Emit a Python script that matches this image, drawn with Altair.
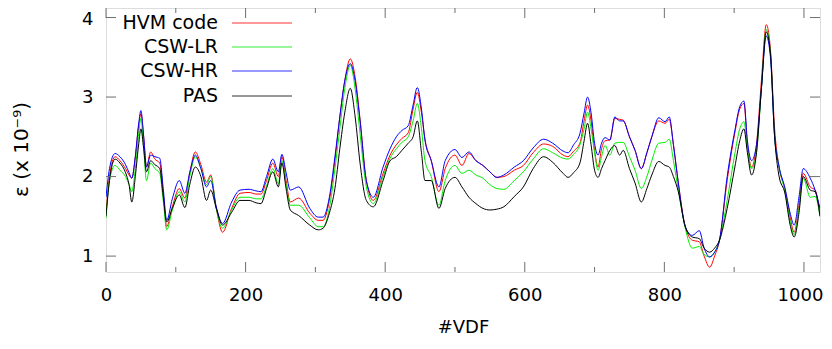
import altair as alt
import pandas as pd

# ---- data ----
vdf = [0, 5, 13, 20, 28, 33, 37, 42, 47, 50, 54, 58, 64, 70, 77, 82, 87, 95, 105, 113,
       120, 128, 136, 144, 150, 158, 167, 180, 192, 205, 215, 222, 230, 239, 247, 252,
       258, 264, 276, 292, 304, 311, 320, 328, 335, 342, 350, 357, 364, 373, 383, 397,
       407, 416, 424, 433, 440, 446, 452, 457, 466, 477, 486, 500, 510, 520, 530, 540,
       550, 560, 570, 585, 598, 612, 627, 640, 655, 662, 670, 679, 685, 690, 695, 700,
       705, 710, 715, 722, 729, 736, 741, 750, 758, 767, 775, 782, 792, 801, 807, 813,
       820, 830, 840, 850, 857, 865, 872, 879, 890, 901, 908, 914, 919, 925, 932, 939,
       946, 952, 958, 964, 973, 980, 986, 993, 999, 1009, 1016, 1023]

hvm = [1.54, 2.0, 2.25, 2.2, 2.1, 2.02, 1.98, 2.25, 2.65, 2.79, 2.5, 2.12, 2.31, 2.22, 2.17, 1.8, 1.37, 1.62, 1.85, 1.73,
       2.05, 2.31, 2.15, 1.93, 2.02, 1.6, 1.3, 1.6, 1.79, 1.8, 1.78, 1.78, 1.95, 2.17, 2.0, 2.25,
       1.95, 1.68, 1.73, 1.54, 1.45, 1.45, 1.7, 2.2, 2.75, 3.2, 3.48, 3.25, 2.72, 1.95, 1.7, 2.04,
       2.27, 2.4, 2.48, 2.55, 2.85, 3.06, 2.8, 2.47, 2.2, 1.81, 2.1, 2.27, 2.14, 2.29, 2.2, 2.14,
       2.06, 1.99, 2.0, 2.08, 2.14, 2.3, 2.41, 2.38, 2.27, 2.25, 2.32, 2.42, 2.7, 2.9, 2.7, 2.33,
       2.12, 2.35, 2.45, 2.46, 2.73, 2.72, 2.71, 2.5, 2.33, 2.1, 2.3, 2.5, 2.7, 2.67, 2.72, 2.4,
       1.92, 1.37, 1.2, 1.18, 1.0, 0.86, 1.0, 1.2, 1.95, 2.55, 2.85, 2.92, 2.4, 2.12, 2.4, 3.2,
       3.91, 3.6, 2.6, 2.14, 1.83, 1.5, 1.3, 1.65, 2.04, 1.87, 1.83, 1.54]

csw_lr = [1.48, 1.95, 2.14, 2.08, 2.0, 1.9, 1.81, 2.1, 2.55, 2.73, 2.35, 1.95, 2.17, 2.1, 2.04, 1.7, 1.33, 1.58, 1.81, 1.68,
          2.0, 2.25, 2.1, 1.9, 2.0, 1.6, 1.35, 1.58, 1.74, 1.74, 1.72, 1.72, 1.88, 2.1, 1.91, 2.2,
          1.9, 1.64, 1.64, 1.48, 1.37, 1.37, 1.6, 2.1, 2.6, 3.1, 3.4, 3.1, 2.54, 1.87, 1.66, 2.0,
          2.23, 2.35, 2.43, 2.5, 2.7, 2.92, 2.6, 2.2, 2.0, 1.64, 1.95, 2.14, 2.04, 2.08, 2.02, 1.98,
          1.9, 1.85, 1.84, 1.95, 2.06, 2.22, 2.35, 2.3, 2.23, 2.22, 2.28, 2.4, 2.6, 2.81, 2.6, 2.3,
          2.08, 2.25, 2.39, 2.27, 2.42, 2.43, 2.43, 2.25, 2.08, 1.85, 2.0, 2.2, 2.42, 2.43, 2.47, 2.2,
          1.83, 1.35, 1.1, 1.12, 1.02, 0.99, 1.05, 1.2, 1.7, 2.29, 2.6, 2.69, 2.35, 2.1, 2.3, 3.1,
          3.85, 3.55, 2.5, 2.14, 1.8, 1.45, 1.27, 1.6, 1.98, 1.74, 1.75, 1.5]

csw_hr = [1.74, 2.1, 2.29, 2.25, 2.15, 2.05, 1.98, 2.25, 2.68, 2.83, 2.5, 2.12, 2.27, 2.25, 2.23, 1.85, 1.45, 1.72, 1.95, 1.79,
          2.05, 2.27, 2.1, 1.87, 1.95, 1.62, 1.41, 1.68, 1.83, 1.84, 1.82, 1.81, 2.0, 2.22, 2.06, 2.28,
          2.05, 1.83, 1.87, 1.6, 1.49, 1.49, 1.74, 2.25, 2.75, 3.2, 3.42, 3.2, 2.7, 1.95, 1.74, 2.12,
          2.35, 2.5, 2.58, 2.64, 2.9, 3.12, 2.85, 2.46, 2.2, 1.87, 2.2, 2.34, 2.24, 2.31, 2.2, 2.14,
          2.06, 1.99, 2.02, 2.12, 2.2, 2.36, 2.47, 2.42, 2.32, 2.3, 2.4, 2.54, 2.8, 3.0, 2.8, 2.42,
          2.27, 2.42, 2.49, 2.46, 2.75, 2.7, 2.7, 2.5, 2.33, 2.1, 2.3, 2.5, 2.74, 2.69, 2.75, 2.4,
          1.92, 1.37, 1.26, 1.32, 1.1, 0.99, 1.05, 1.2, 2.0, 2.58, 2.88, 2.95, 2.45, 2.2, 2.4, 3.1,
          3.77, 3.5, 2.5, 2.14, 1.85, 1.55, 1.39, 1.75, 2.1, 1.98, 1.83, 1.6]

pas = [1.5, 1.95, 2.22, 2.17, 2.05, 1.9, 1.68, 2.0, 2.42, 2.6, 2.35, 2.06, 2.2, 2.15, 2.1, 1.75, 1.43, 1.6, 1.77, 1.61,
       1.9, 2.12, 2.0, 1.7, 1.83, 1.6, 1.39, 1.55, 1.7, 1.7, 1.67, 1.66, 1.85, 2.06, 1.87, 2.17,
       1.85, 1.58, 1.51, 1.39, 1.33, 1.35, 1.54, 1.85, 2.35, 2.8, 3.11, 2.75, 2.17, 1.7, 1.62, 1.95,
       2.2, 2.25, 2.33, 2.42, 2.5, 2.7, 2.3, 1.95, 1.95, 1.6, 1.85, 1.99, 1.87, 1.74, 1.66, 1.6,
       1.58, 1.59, 1.62, 1.75, 1.87, 2.1, 2.25, 2.18, 2.04, 1.99, 2.05, 2.17, 2.45, 2.67, 2.4, 2.08,
       1.99, 2.1, 2.2, 2.33, 2.39, 2.27, 2.33, 2.1, 1.92, 1.68, 1.85, 2.02, 2.19, 2.14, 2.12, 2.0,
       1.81, 1.37, 1.24, 1.22, 1.1, 1.05, 1.1, 1.2, 1.6, 2.12, 2.45, 2.6, 2.3, 2.02, 2.3, 3.1,
       3.82, 3.55, 2.5, 2.02, 1.78, 1.4, 1.24, 1.55, 2.0, 1.83, 1.81, 1.5]

series_names = ["HVM code", "CSW-LR", "CSW-HR", "PAS"]
series_values = [hvm, csw_lr, csw_hr, pas]
series_colors = ["#ff0000", "#00ee00", "#0000ff", "#000000"]
legend_colors = ["#ff3333", "#33ee33", "#3333ff", "#333333"]

x_major = [0, 200, 400, 600, 800, 1000]
x_minor = [100, 300, 500, 700, 900]
y_major = [1, 2, 3, 4]

W, H = 714, 264
FONT = "DejaVu Sans"
FRAME = "#6e6e6e"
X_TITLE = "#VDF"
Y_TITLE = "ε (x 10⁻⁹)"

rows = []
for name, vals in zip(series_names, series_values):
    for xv, yv in zip(vdf, vals):
        rows.append({"vdf": xv, "eps": yv, "series": name})
df = pd.DataFrame(rows)

xscale = alt.Scale(domain=[0, 1023], nice=False, zero=False)
yscale = alt.Scale(domain=[0.8, 4.12], nice=False, zero=False)

xaxis = alt.Axis(values=x_major, format="d", ticks=False, domain=False, grid=False,
                 labelFont=FONT, labelFontSize=18, labelColor="black", labelPadding=14,
                 labelOffset=alt.expr("datum.value == 1000 ? -4 : 0"),
                 titleFont=FONT, titleFontSize=18, titleFontWeight="normal",
                 titleColor="black", titlePadding=14, labelFlush=False)
yaxis = alt.Axis(values=y_major, format="d", ticks=False, domain=False, grid=False,
                 labelFont=FONT, labelFontSize=18, labelColor="black", labelPadding=13,
                 labelOffset=alt.expr("datum.value == 4 ? 2 : 0"),
                 titleFont=FONT, titleFontSize=20, titleFontWeight="normal",
                 titleColor="black", titlePadding=50, titleY=141)

lines = alt.Chart(df).mark_line(strokeWidth=1, interpolate="monotone", clip=True).encode(
    x=alt.X("vdf:Q", scale=xscale, title=X_TITLE, axis=xaxis),
    y=alt.Y("eps:Q", scale=yscale, title=Y_TITLE, axis=yaxis),
    color=alt.Color("series:N", scale=alt.Scale(domain=series_names, range=series_colors), legend=None),
    order=alt.Order("vdf:Q"),
    detail="series:N",
)

def vticks(vals, y0, y1):
    return alt.Chart(pd.DataFrame({"v": vals})).mark_rule(color=FRAME, strokeWidth=1).encode(
        x=alt.X("v:Q", scale=xscale, title=X_TITLE, axis=xaxis), y=alt.value(y0), y2=alt.value(y1))

def hticks(vals, x0, x1):
    return alt.Chart(pd.DataFrame({"v": vals})).mark_rule(color=FRAME, strokeWidth=1).encode(
        y=alt.Y("v:Q", scale=yscale, title=Y_TITLE, axis=yaxis), x=alt.value(x0), x2=alt.value(x1))

ticks = [
    vticks(x_major, H, H - 10), vticks(x_minor, H, H - 5),
    vticks(x_major, 0, 10), vticks(x_minor, 0, 5),
    hticks(y_major, 0, 10), hticks(y_major, W - 10, W),
]

legend_layers = []
row_y = [15, 39, 63, 88]
for name, col, ry in zip(series_names, legend_colors, row_y):
    d = pd.DataFrame({"t": [name]})
    legend_layers.append(alt.Chart(d).mark_text(align="right", baseline="middle", font=FONT,
                                                fontSize=19, color="black").encode(
        text="t:N", x=alt.value(112), y=alt.value(ry)))
    legend_layers.append(alt.Chart(d).mark_rule(color=col, strokeWidth=1).encode(
        x=alt.value(126), x2=alt.value(186), y=alt.value(ry)))

chart = alt.layer(lines, *ticks, *legend_layers).properties(
    width=W, height=H,
    autosize=alt.AutoSizeParams(type="none"),
    padding={"left": 98, "top": 0, "right": 4, "bottom": 77},
).configure_view(stroke=FRAME, strokeWidth=1).configure(background="white")

chart.save("out.html", embed_options={"renderer": "svg", "actions": False})
